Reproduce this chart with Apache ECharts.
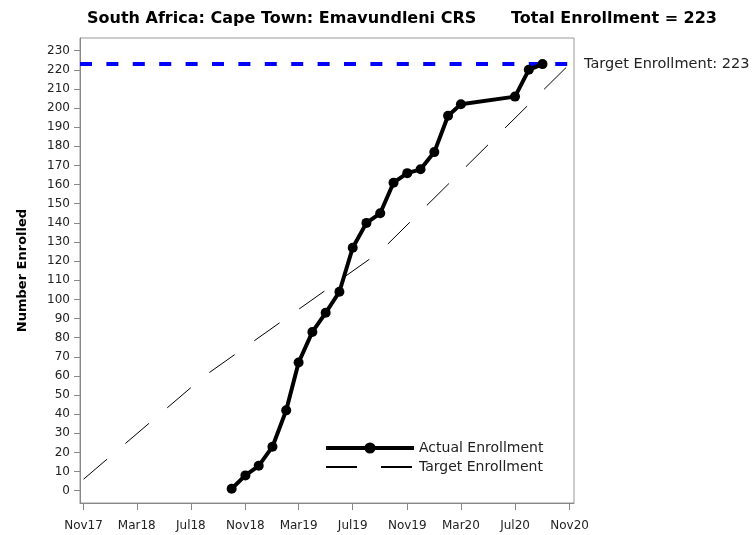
<!DOCTYPE html>
<html><head><meta charset="utf-8">
<script src="https://cdn.jsdelivr.net/npm/echarts@6/dist/echarts.min.js"></script>
<style>html,body{margin:0;padding:0;background:#fff}#c{width:752px;height:535px}</style>
</head><body><div id="c"></div>
<script>
const titleLeft = 'South Africa: Cape Town: Emavundleni CRS';
const titleRight = 'Total Enrollment = 223';
const yAxisName = 'Number Enrolled';
const seriesNames = ['Actual Enrollment', 'Target Enrollment'];
const targetEnrollment = 223;
const targetLabel = 'Target Enrollment: 223';

const actualDates = ['2018-10-01','2018-11-01','2018-12-01','2019-01-01','2019-02-01','2019-03-01','2019-04-01','2019-05-01','2019-06-01','2019-07-01','2019-08-01','2019-09-01','2019-10-01','2019-11-01','2019-12-01','2020-01-01','2020-02-01','2020-03-01','2020-07-01','2020-08-01','2020-09-01'];
const actualValues = [1, 8, 13, 23, 42, 67, 83, 93, 104, 127, 140, 145, 161, 166, 168, 177, 196, 202, 206, 220, 223];

const targetDates = ['2017-11-01','2018-08-01','2019-09-01','2020-11-01'];
const targetValues = [6, 60, 125, 223];

const xTickDates = ['2017-11-01','2018-03-01','2018-07-01','2018-11-01','2019-03-01','2019-07-01','2019-11-01','2020-03-01','2020-07-01','2020-11-01'];
const yTicks = [0,10,20,30,40,50,60,70,80,90,100,110,120,130,140,150,160,170,180,190,200,210,220,230];
const monthNames = ['Jan','Feb','Mar','Apr','May','Jun','Jul','Aug','Sep','Oct','Nov','Dec'];

function ts(s){ const p = s.split('-').map(Number); return Date.UTC(p[0], p[1]-1, p[2]); }
const DAY = 86400000;
const xTickVals = xTickDates.map(ts);

const chart = echarts.init(document.getElementById('c'), null, {renderer: 'canvas'});
const FONT = 'DejaVu Sans';
chart.setOption({
  animation: false,
  backgroundColor: '#fff',
  textStyle: {fontFamily: FONT},
  graphic: [
    {type: 'text', left: 87, top: 11, style: {text: titleLeft, font: 'bold 16px "DejaVu Sans"', fill: '#000'}},
    {type: 'text', right: 35, top: 11, style: {text: titleRight, font: 'bold 16px "DejaVu Sans"', fill: '#000'}}
  ],
  grid: {left: 80, right: 178, top: 38, bottom: 32, show: true, borderColor: '#999', borderWidth: 1, containLabel: false},
  legend: {
    orient: 'vertical', left: 324, top: 441, padding: 0, itemWidth: 88, itemHeight: 14, itemGap: 5,
    textStyle: {fontFamily: FONT, fontSize: 14, color: '#222'},
    data: [
      {name: seriesNames[0], lineStyle: {width: 4}},
      {name: seriesNames[1], itemStyle: {opacity: 0}}
    ]
  },
  xAxis: {
    type: 'value',
    min: ts('2017-11-01') - 8 * DAY,
    max: ts('2020-11-01') + 10 * DAY,
    axisLine: {onZero: false, lineStyle: {color: '#888'}},
    axisTick: {show: true, inside: false, length: 7, customValues: xTickVals, lineStyle: {color: '#888'}},
    axisLabel: {
      customValues: xTickVals, fontFamily: FONT, fontSize: 12, color: '#222', margin: 17,
      formatter: function (v) { const d = new Date(v); return monthNames[d.getUTCMonth()] + String(d.getUTCFullYear()).slice(2); }
    },
    splitLine: {show: false}
  },
  yAxis: {
    type: 'value',
    min: -6.43, max: 236.64,
    name: yAxisName, nameLocation: 'middle', nameGap: 51, nameRotate: 90,
    nameTextStyle: {fontFamily: FONT, fontSize: 13, fontWeight: 'bold', color: '#000'},
    axisLine: {show: true, onZero: false, lineStyle: {color: '#888'}},
    axisTick: {show: true, inside: false, length: 6, customValues: yTicks, lineStyle: {color: '#888'}},
    axisLabel: {customValues: yTicks, fontFamily: FONT, fontSize: 12, color: '#222', margin: 10},
    splitLine: {show: false}
  },
  series: [
    {
      name: seriesNames[1], type: 'line', z: 2,
      data: targetDates.map((d, i) => [ts(d), targetValues[i]]),
      symbol: 'none',
      lineStyle: {color: '#000', width: 1, type: [31, 24]},
      itemStyle: {color: '#000'},
      markLine: {
        silent: true, symbol: 'none', z: 3,
        data: [{yAxis: targetEnrollment}],
        lineStyle: {color: '#0000ff', width: 4, type: [12, 14.4]},
        label: {show: true, position: 'end', distance: 10, formatter: targetLabel, fontFamily: FONT, fontSize: 14.5, color: '#222'}
      }
    },
    {
      name: seriesNames[0], type: 'line', z: 4,
      data: actualDates.map((d, i) => [ts(d), actualValues[i]]),
      symbol: 'circle', symbolSize: 10,
      lineStyle: {color: '#000', width: 4},
      itemStyle: {color: '#000'}
    }
  ]
});
</script>
</body></html>
